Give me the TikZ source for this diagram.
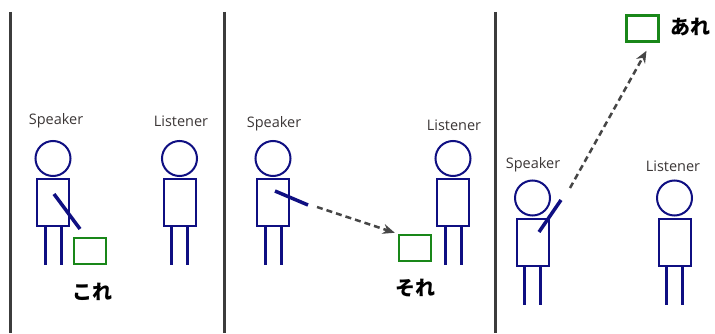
\documentclass[tikz,border=0pt]{standalone}
\usepackage{fontspec}
\newfontfamily\labelfont{Open Sans}
\newfontfamily\jpfont{Noto Sans CJK JP}
\definecolor{figblue}{RGB}{15, 15, 130}
\definecolor{boxgreen}{RGB}{25, 135, 25}
\definecolor{pointgray}{RGB}{70, 70, 70}
\definecolor{rulegray}{RGB}{60, 60, 60}
\definecolor{labelgray}{RGB}{60, 55, 55}
\usetikzlibrary{arrows.meta, positioning}

\begin{document}
\begin{tikzpicture}[x=1pt, y=1pt,
    body/.style={draw=figblue, line width=2pt, minimum width=32pt, minimum height=47pt, inner sep=0pt},
    head/.style={draw=figblue, line width=2pt, circle, minimum size=35pt, inner sep=0pt},
    leg/.style={figblue, line width=3pt},
    arm/.style={figblue, line width=3.5pt},
    thing/.style={draw=boxgreen, line width=2.5pt, minimum width=32pt, minimum height=26pt, inner sep=0pt},
    role/.style={font=\labelfont\fontsize{14.5}{16}\selectfont, text=labelgray, inner sep=0pt},
    word/.style={font=\jpfont\bfseries\fontsize{20}{22}\selectfont, inner sep=0pt},
    pointer/.style={-{Stealth[length=12pt, width=10pt]}, pointgray, line width=2.5pt, dash pattern=on 6pt off 4pt},
    divider/.style={rulegray, line width=3pt}]
  \useasboundingbox[fill=white] (0,0) rectangle (715,333);

  % Panel dividers
  \coordinate (d1) at (10,321);
  \coordinate (d2) at (224,321);
  \coordinate (d3) at (495,321);
  \draw[divider] (d1) -- (d1 |- 0,0);
  \draw[divider] (d2) -- (d2 |- 0,0);
  \draw[divider] (d3) -- (d3 |- 0,0);

  % Panel 1: kore
  \node[body] (spk1) at (53,130.5) {};
  \node[head, above=1pt of spk1] (spk1h) {};
  \draw[leg] ([xshift=-8pt]spk1.south) -- ++(0,-38);
  \draw[leg] ([xshift=8pt]spk1.south) -- ++(0,-38);
  \node[role] (spk1l) at (56,212) {Speaker};
  \coordinate (arm1a) at (54,139);
  \coordinate (arm1b) at (80,104);
  \draw[arm] (arm1a) -- (arm1b);
  \node[thing] (obj1) at (90,82) {};
  \node[word] (kore) at (92,41) {これ};

  \node[body] (lis1) at (179.5,130.5) {};
  \node[head, above=1pt of lis1] (lis1h) {};
  \draw[leg] ([xshift=-8pt]lis1.south) -- ++(0,-38);
  \draw[leg] ([xshift=8pt]lis1.south) -- ++(0,-38);
  \node[role] (lis1l) at (181,212) {Listener};

  % Panel 2: sore
  \node[body] (spk2) at (273,130.5) {};
  \node[head, above=1pt of spk2] (spk2h) {};
  \draw[leg] ([xshift=-8pt]spk2.south) -- ++(0,-38);
  \draw[leg] ([xshift=8pt]spk2.south) -- ++(0,-38);
  \node[role] (spk2l) at (274,209) {Speaker};
  \coordinate (arm2a) at (275,142);
  \coordinate (arm2b) at (308,128);
  \draw[arm] (arm2a) -- (arm2b);
  \node[thing] (obj2) at (415,85) {};
  \node[word] (sore) at (415,45) {それ};
  \coordinate (ptr2) at (317,126);
  \draw[pointer] (ptr2) -- ([xshift=-3pt,yshift=1pt]obj2.north west);

  \node[body] (lis2) at (453,130.5) {};
  \node[head, above=1pt of lis2] (lis2h) {};
  \draw[leg] ([xshift=-8pt]lis2.south) -- ++(0,-38);
  \draw[leg] ([xshift=8pt]lis2.south) -- ++(0,-38);
  \node[role] (lis2l) at (454,208) {Listener};

  % Panel 3: are
  \node[body] (spk3) at (532.5,91) {};
  \node[head, above=1pt of spk3] (spk3h) {};
  \draw[leg] ([xshift=-8pt]spk3.south) -- ++(0,-38);
  \draw[leg] ([xshift=8pt]spk3.south) -- ++(0,-38);
  \node[role] (spk3l) at (533,168) {Speaker};
  \coordinate (arm3a) at (539,101);
  \coordinate (arm3b) at (561,133);
  \draw[arm] (arm3a) -- (arm3b);
  \node[thing] (obj3) at (642.5,304.5) {};
  \node[word] (are) at (690,306) {あれ};
  \coordinate (ptr3) at (570,145);
  \draw[pointer] (ptr3) -- ([xshift=4pt,yshift=-8pt]obj3.south);

  \node[body] (lis3) at (674.5,91) {};
  \node[head, above=1pt of lis3] (lis3h) {};
  \draw[leg] ([xshift=-8pt]lis3.south) -- ++(0,-38);
  \draw[leg] ([xshift=8pt]lis3.south) -- ++(0,-38);
  \node[role] (lis3l) at (673,167) {Listener};
\end{tikzpicture}
\end{document}
